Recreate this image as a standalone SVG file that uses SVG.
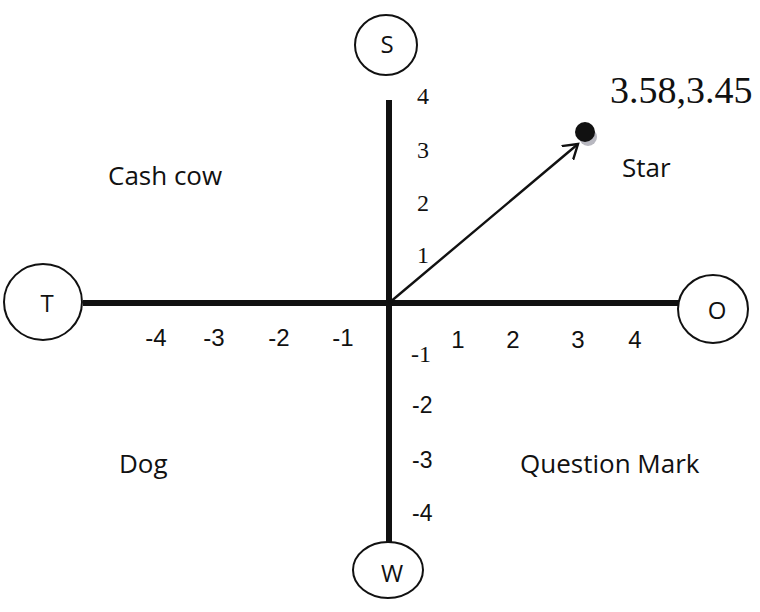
<svg xmlns="http://www.w3.org/2000/svg" width="760" height="612" viewBox="0 0 760 612">
<style>
.node{fill:#fff;stroke:#111;stroke-width:2}
.nl{font-family:"Open Sans","DejaVu Sans",sans-serif;font-size:24px;fill:#111;text-anchor:middle}
.q{font-family:"Open Sans","DejaVu Sans",sans-serif;font-size:26px;fill:#111}
.ts{font-family:"Liberation Sans",Arial,sans-serif;font-size:24px;fill:#111;text-anchor:middle}
.tr{font-family:"Liberation Serif","Times New Roman",serif;font-size:24px;fill:#111}
.tn{font-family:"Liberation Sans Narrow","Liberation Sans",sans-serif;font-size:23px;fill:#111}
.axis{stroke:#111;stroke-width:6;fill:none}
.arrow{stroke:#111;stroke-width:2.4;fill:none}
</style>
<defs>
<marker id="ah" markerWidth="20" markerHeight="20" refX="14" refY="9" orient="auto" markerUnits="userSpaceOnUse" viewBox="0 0 20 18">
<path d="M0,0 L14,9 L0,18" fill="none" stroke="#111" stroke-width="2.4"/>
</marker>
</defs>
<rect width="760" height="612" fill="#fff"/>
<g id="connectors">
<line class="axis" x1="389" y1="100" x2="389" y2="543"/>
<line class="axis" x1="83" y1="303" x2="679" y2="303"/>
<line class="arrow" x1="389" y1="303" x2="578" y2="144" marker-end="url(#ah)"/>
</g>
<g id="node-S"><ellipse class="node" cx="386" cy="45" rx="31" ry="30"/><text class="nl" x="387" y="53">S</text></g>
<g id="node-T"><ellipse class="node" cx="43" cy="302" rx="39" ry="38"/><text class="nl" x="47" y="312">T</text></g>
<g id="node-O"><ellipse class="node" cx="713" cy="309" rx="35" ry="34"/><text class="nl" x="717" y="319">O</text></g>
<g id="node-W"><ellipse class="node" cx="388" cy="570" rx="35" ry="28"/><text class="nl" x="392" y="582">W</text></g>
<g id="point">
<circle cx="588" cy="137" r="9" fill="#b8b8c0"/>
<circle cx="585" cy="132" r="10" fill="#111"/>
</g>
<g id="labels">
<text x="610" y="103" font-family="Liberation Serif,Times New Roman,serif" font-size="38" fill="#111">3.58,3.45</text>
<text class="q" x="622" y="177">Star</text>
<text class="q" x="108" y="185">Cash cow</text>
<text class="q" x="119" y="473">Dog</text>
<text class="q" x="520" y="473">Question Mark</text>
<text class="tr" x="417" y="104">4</text>
<text class="tr" x="417" y="158">3</text>
<text class="tr" x="417" y="211">2</text>
<text class="tr" x="417" y="263">1</text>
<text class="tr" x="411" y="362">-1</text>
<text class="tn" x="412" y="413">-2</text>
<text class="tn" x="412" y="468">-3</text>
<text class="tn" x="412" y="521">-4</text>
<text class="ts" x="156" y="346">-4</text>
<text class="ts" x="214" y="346">-3</text>
<text class="ts" x="279" y="346">-2</text>
<text class="ts" x="343" y="346">-1</text>
<text class="ts" x="458" y="348">1</text>
<text class="ts" x="513" y="348">2</text>
<text class="ts" x="578" y="348">3</text>
<text class="ts" x="635" y="348">4</text>
</g>
</svg>
